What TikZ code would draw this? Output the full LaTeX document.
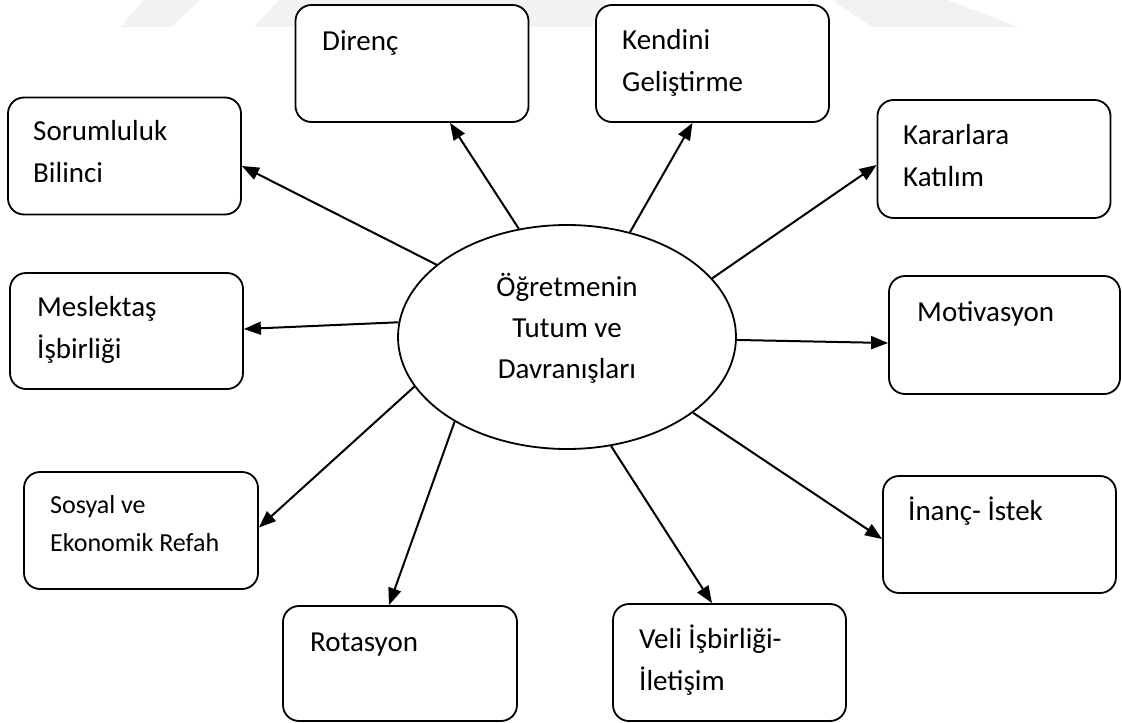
\documentclass[tikz,border=0pt]{standalone}
\usepackage{fontspec}
\setmainfont{Carlito}
\usetikzlibrary{arrows.meta,shapes.geometric}
\tikzset{
  boxnode/.style={draw, line width=1.8pt, rounded corners=16pt, inner sep=0pt, minimum width=233pt, minimum height=117pt},
  txt/.style={font=\fontsize{29}{42}\selectfont, anchor=base west, inner sep=0pt},
  smalltxt/.style={font=\fontsize{26}{38}\selectfont, anchor=base west, inner sep=0pt},
  conn/.style={line width=2pt, -{Triangle[length=17pt,width=13pt]}},
  wmark/.style={fill=black!5, draw=none}
}
\begin{document}
\begin{tikzpicture}[x=1pt,y=-1pt]
\useasboundingbox (0,0) rectangle (1122,723);
% faint watermark
\fill[wmark] (121,27) -- (171,27) -- (200,0) -- (143,0) -- cycle;
\fill[wmark] (254,27) -- (592,27) -- (606,0) -- (279,0) -- cycle;
\fill[wmark] (832,0) -- (947,0) -- (1019,27) -- (872,27) -- cycle;
% boxes
\node[boxnode, fill=white] (b1) at (124.5,156) {};
\node[boxnode, fill=white] (b2) at (412,63.5) {};
\node[boxnode, fill=white] (b3) at (712.5,63.5) {};
\node[boxnode, fill=white, minimum height=118pt] (b4) at (994,159) {};
\node[boxnode, fill=white, minimum height=116pt] (b5) at (126.5,331) {};
\node[boxnode, fill=white, minimum height=118pt, minimum width=231pt] (b6) at (1004.5,335) {};
\node[boxnode, fill=white, minimum width=234pt] (b7) at (141,530.5) {};
\node[boxnode, fill=white] (b8) at (999.5,534.5) {};
\node[boxnode, fill=white, minimum width=234pt, minimum height=115pt] (b9) at (400,663.5) {};
\node[boxnode, fill=white] (b10) at (729.5,662.5) {};
% box texts
\node[txt] (l1) at (33,140) {\begin{tabular}[t]{@{}l@{}}Sorumluluk\\Bilinci\end{tabular}};
\node[txt] (l2) at (322,50) {Direnç};
\node[txt] (l3) at (622,49) {\begin{tabular}[t]{@{}l@{}}Kendini\\Geliştirme\end{tabular}};
\node[txt] (l4) at (903,144) {\begin{tabular}[t]{@{}l@{}}Kararlara\\Katılım\end{tabular}};
\node[txt] (l5) at (37,316) {\begin{tabular}[t]{@{}l@{}}Meslektaş\\İşbirliği\end{tabular}};
\node[txt] (l6) at (917,321) {Motivasyon};
\node[smalltxt] (l7) at (50,513) {\begin{tabular}[t]{@{}l@{}}Sosyal ve\\Ekonomik Refah\end{tabular}};
\node[txt] (l8) at (908,520) {İnanç- İstek};
\node[txt] (l9) at (310,651) {Rotasyon};
\node[txt] (l10) at (639,648) {\begin{tabular}[t]{@{}l@{}}Veli İşbirliği-\\İletişim\end{tabular}};
% central ellipse
\node[ellipse, draw, line width=1.8pt, fill=white, inner sep=0pt, minimum width=338pt, minimum height=224pt] (c) at (567,337) {};
\node[font=\fontsize{29}{41}\selectfont, anchor=base, inner sep=0pt] (ct) at (567,296) {\begin{tabular}[t]{@{}c@{}}Öğretmenin\\Tutum ve\\Davranışları\end{tabular}};
% connectors
\draw[conn] (c.151.8) -- ([yshift=-10pt]b1.east);
\draw[conn] (c.114.6) -- ([xshift=38pt]b2.south);
\draw[conn] (c.59.2) -- ([xshift=-20pt]b3.south);
\draw[conn] (c.22.7) -- ([yshift=-6pt]b4.west);
\draw[conn] (c.175.6) -- ([yshift=2pt]b5.east);
\draw[conn] (c.-1.4) -- ([yshift=-8pt]b6.west);
\draw[conn] (c.198.65) -- ([yshift=3pt]b7.east);
\draw[conn] (c.-31) -- ([yshift=-4.5pt]b8.west);
\draw[conn] (c.217.1) -- ([xshift=-11pt]b9.north);
\draw[conn] (c.-68.6) -- ([xshift=-17.5pt]b10.north);
\end{tikzpicture}
\end{document}
